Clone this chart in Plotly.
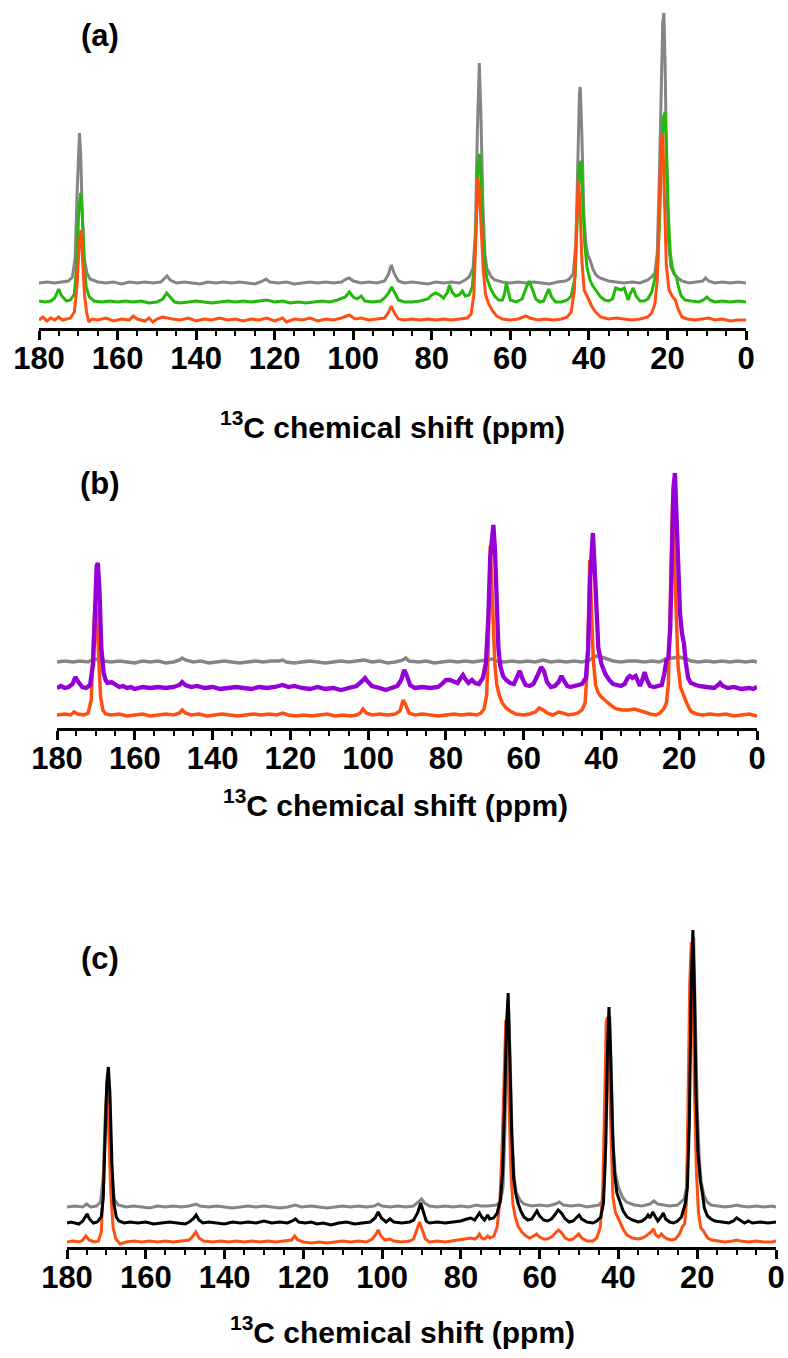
import plotly.graph_objects as go

# ---------------- data: [ppm, intensity above own baseline] ----------------
A_GRAY = [[180,0],[178,1],[176,0],[174,1],[172.5,2],[171.5,6],[170.8,25],[170.3,90],[169.9,140],[169.7,150],[169.4,130],[169,70],[168.5,25],[167.8,10],[167,4],[165,1],[163,0],[161,1],[159,-1],[157,1],[155,0],[153,1],[151,0],[149,1],[148.2,4],[147.4,7],[146.6,3],[145,0],[143,1],[141,0],[139,-1],[137,1],[135,0],[133,1],[131,0],[129,1],[127,0],[125,-1],[123,2],[122.2,4],[121.2,1],[119,0],[117,1],[115,-1],[113,0],[111,1],[109,0],[107,1],[105,0],[103,1],[101.8,4],[101,5],[100,2],[98,0],[96,1],[94,0],[92,2],[91,9],[90.3,18],[89.5,9],[88.5,2],[87,0],[85,1],[83,0],[81,-1],[79,1],[77,0],[75,1],[73,0],[71.5,3],[70.5,6],[69.5,15],[68.9,50],[68.4,150],[67.9,220],[67.5,170],[67,80],[66.5,30],[66,15],[65,7],[64,3],[62,1],[60,0],[58,1],[56,0],[54,1],[52,0],[50,-1],[48,1],[46,2],[45,4],[44,9],[43.3,40],[42.8,130],[42.4,190],[42.2,196],[41.8,150],[41.3,70],[40.8,40],[40.2,27],[39.7,23],[39,14],[38.2,8],[37.2,5],[36,3],[35,2],[33,1],[31,0],[29,1],[27,0],[25,3],[24,6],[23.2,10],[22.6,30],[22.1,100],[21.6,210],[21.2,260],[20.9,270],[20.6,220],[20.2,110],[19.7,40],[19.1,16],[18.3,9],[17.3,5],[16.3,2],[14.5,0],[12.5,1],[11,2],[10.3,5],[9.5,2],[8,0],[6,1],[4,0],[2,1],[0,0]]
A_GREEN = [[180,1],[178.5,0],[177,1],[176,4],[175,13],[174.2,6],[173,1],[172,2],[171,8],[170.4,35],[169.9,90],[169.4,109],[169,90],[168.5,40],[168,15],[167.2,5],[166,1],[164,0],[162,1],[160,0],[158,1],[156,0],[154,1],[152,-1],[150,0],[148.5,3],[147.5,9],[146.5,4],[145.5,0],[144,-1],[142,0],[140,1],[138,0],[136,-1],[134,0],[132,1],[130,0],[128,1],[126,0],[124,1],[122,2],[120,0],[118,1],[116,-1],[114,0],[112,-1],[110,0],[108,1],[106,0],[104,2],[102,5],[101,10],[100,5],[99,3],[98,6],[97,1],[95,0],[93,1],[92,4],[91,9],[90.2,15],[89.3,8],[88.5,2],[87,0],[85,0],[83,1],[81,3],[80,7],[79,9],[78,7],[77,4],[76,10],[75.5,17],[74.8,10],[74,6],[73,7],[72.2,11],[71.5,6],[70.5,7],[69.7,15],[69.1,40],[68.6,90],[68.2,140],[67.8,148],[67.4,120],[67,70],[66.5,38],[66,24],[65,13],[64,6],[63,2],[62,2],[61.5,8],[61,19],[60.5,10],[60,2],[58.5,0],[57,3],[56,14],[55.2,21],[54.5,14],[53.5,3],[52.5,0],[51.5,1],[50.8,8],[50.2,13],[49.5,5],[48.5,0],[47,0],[45.5,2],[44.5,6],[43.5,25],[42.9,90],[42.4,135],[42,141],[41.6,110],[41.1,60],[40.5,35],[39.7,22],[39,16],[38,10],[37,5],[36,2],[35,1],[34,3],[33.2,14],[32.5,13],[31.8,12],[31,14],[30.4,6],[30,2],[29.5,8],[28.7,14],[28,6],[27,1],[26,1],[25,3],[24,10],[23.4,22],[23,27],[22.5,35],[22,80],[21.5,150],[21,185],[20.6,190],[20.2,150],[19.8,90],[19.3,50],[18.8,35],[18.2,28],[17.7,25],[17.2,15],[16.5,6],[15.5,2],[14,1],[12,0],[10.8,2],[10,5],[9.2,2],[8,0],[6,1],[4,0],[2,1],[0,0]]
A_ORANGE = [[180,0],[179,3],[178,-1],[177,2],[176,0],[175,3],[174,0],[173,1],[172,2],[171,8],[170.3,35],[169.8,75],[169.3,90],[168.9,60],[168.4,25],[167.9,8],[167.3,-2],[166.5,1],[165,0],[163,2],[161,-1],[159,1],[157,0],[156,4],[155,1],[153,-1],[152,2],[151,-2],[150,1],[148.5,3],[147.5,2],[146,1],[144,0],[142,2],[140,-1],[138,1],[136,0],[134,2],[132,0],[130,1],[128,-1],[126,1],[124,0],[122,2],[120,-1],[118,2],[117,-2],[115,1],[113,0],[111,2],[109,-1],[107,1],[105,0],[103,2],[101,5],[99.5,1],[98,2],[96,0],[94,1],[92,2],[91,8],[90.3,14],[89.5,7],[88.5,1],[87,0],[85,1],[83,0],[81,1],[79,0],[77,1],[75,0],[73,1],[71,2],[70,6],[69.3,25],[68.8,80],[68.3,143],[67.9,130],[67.4,90],[66.9,50],[66.3,25],[65.5,16],[64.5,9],[63.5,4],[62,1],[60,0],[58,1],[56,4],[55,2],[53,0],[51,1],[49,0],[47,1],[45.5,3],[44.5,8],[43.7,30],[43.1,100],[42.7,140],[42.3,120],[41.8,60],[41.2,30],[40.3,22],[39.3,14],[38.3,8],[37,3],[35,1],[33,2],[31,1],[29,0],[27,1],[25,3],[24,7],[23.2,16],[22.6,40],[22.1,120],[21.6,180],[21.2,187],[20.8,120],[20.3,55],[19.6,30],[18.8,24],[18,20],[17.2,10],[16.3,3],[15,1],[13,0],[11,1],[9.5,2],[8,0],[6,1],[4,-1],[2,0],[0,0]]

B_GRAY = [[180,0],[178,1],[176,0],[174,1],[172,0],[171,2],[170,3],[168,1],[166,0],[164,1],[162,0],[160,-1],[158,1],[156,0],[154,1],[152,-1],[150,0],[148.5,2],[147.8,4],[147,2],[145,0],[143,1],[141,-1],[139,0],[137,1],[135,0],[133,-1],[131,0],[129,1],[127,0],[125,1],[123,1],[122,2],[121,0],[119,-1],[117,0],[115,1],[113,0],[111,-1],[109,0],[107,1],[105,0],[103,1],[101,2],[99,0],[97,1],[95,-1],[93,0],[91,2],[90.3,4],[89.5,1],[87,0],[85,1],[83,-1],[81,0],[79,1],[77,0],[75,1],[73,0],[71,1],[69,2],[68,3],[67,1],[65,0],[63,1],[61,0],[59,1],[57,0],[55,2],[53,0],[51,1],[49,0],[47,1],[45,0],[43,2],[41.5,6],[40,5],[38.5,3],[37,1],[35,0],[33,1],[31,1],[29,0],[27,1],[25,0],[23.5,3],[22,4],[20,5],[18,3],[17,1],[15,0],[13,1],[11,0],[9,1],[7,0],[5,1],[3,0],[1,1],[0,0]]
B_PURPLE = [[180,0],[179,2],[178,0],[177,1],[176,4],[175.3,11],[174.5,6],[173.5,1],[172.5,0],[171.5,3],[170.7,25],[170.2,90],[169.8,122],[169.5,125],[169.1,100],[168.6,40],[168,15],[167.5,8],[167,5],[166,6],[165,3],[164,1],[163,2],[162,0],[161,1],[160,-1],[158,1],[156,0],[154,1],[152,0],[150,1],[148.5,3],[147.8,6],[147,3],[145.5,1],[144,2],[142,0],[140,1],[138,-1],[136,0],[134,1],[132,0],[130,-1],[128,1],[126,0],[124,1],[122,3],[120.5,1],[119,2],[117,0],[115,-1],[113,1],[111,-1],[109,0],[107,-2],[105,0],[103,2],[101.5,7],[100.8,10],[100,6],[99,2],[97,0],[95.5,-2],[94,0],[92.5,2],[91.5,8],[90.7,18],[90,12],[89.2,3],[88,0],[86,1],[84,0],[82,1],[81,4],[80,8],[79,8],[78,6],[77,5],[76.2,10],[75.6,13],[75,9],[74.2,5],[73.3,8],[72.5,5],[71.5,4],[70.5,10],[69.7,25],[69.1,70],[68.6,130],[68.1,160],[67.8,163],[67.4,140],[67,90],[66.5,40],[66,22],[65.3,12],[64.5,8],[63.5,5],[62.5,4],[61.7,10],[61,17],[60.4,10],[59.5,3],[58.5,2],[57.5,4],[56.5,12],[55.5,21],[54.8,17],[54,6],[53,1],[52,2],[51,6],[50.3,12],[49.6,7],[48.8,2],[48,1],[47,2],[46,4],[45,4],[44,10],[43.4,40],[42.9,110],[42.5,152],[42.2,155],[41.8,125],[41.3,70],[40.8,40],[40,24],[39,14],[38,8],[37,4],[36,3],[35,2],[34,4],[33.3,10],[32.7,12],[32,10],[31.2,12],[30.6,6],[30.1,2],[29.5,8],[28.9,16],[28.3,8],[27.5,2],[26.5,1],[25.5,2],[24.5,3],[23.8,15],[23.3,28],[22.8,30],[22.3,60],[21.9,130],[21.5,200],[21.1,215],[20.7,170],[20.3,110],[19.8,75],[19.3,55],[18.8,45],[18.3,25],[17.7,10],[17,5],[16,3],[15,2],[13,1],[11,0],[10,3],[9.5,5],[8.8,2],[7.5,0],[6,1],[4,-1],[2,0],[1,-1],[0,1]]
B_ORANGE = [[180,0],[178,1],[176.5,0],[175.6,3],[174.7,1],[173,0],[172,2],[171.2,15],[170.7,70],[170.2,113],[169.8,100],[169.3,50],[168.8,18],[168.2,5],[167.5,1],[166,0],[164,1],[162,-1],[160,0],[158,1],[156,-1],[154,0],[152,1],[150,0],[148.5,2],[147.8,5],[147,2],[145.5,0],[143.5,1],[141.5,-1],[139.5,0],[137.5,1],[135.5,0],[133.5,-1],[131.5,0],[129.5,1],[127.5,0],[125.5,1],[123.5,0],[122,2],[120.5,0],[118.5,-1],[116.5,0],[114.5,-1],[112.5,0],[110.5,1],[108.5,-1],[106.5,0],[104.5,-1],[103,0],[102,2],[101.3,6],[100.5,2],[99,0],[97,1],[95,0],[93,1],[91.8,4],[91,15],[90.3,10],[89.5,2],[88,0],[86,1],[84,0],[82,-1],[80,0],[78,1],[76,0],[74,1],[72,0],[71,2],[70.2,6],[69.5,20],[69.1,70],[68.8,140],[68.6,169],[68.3,140],[67.9,90],[67.4,50],[66.9,30],[66.3,20],[65.5,12],[64.5,7],[63.5,4],[62,1],[60,0],[58.5,1],[57,3],[56,7],[55,5],[54,2],[52.5,0],[51,3],[50,2],[48.5,0],[47,1],[46,2],[45,5],[44.2,12],[43.6,50],[43.2,140],[43,155],[42.6,110],[42.1,55],[41.5,30],[40.8,22],[40,18],[39,14],[38,11],[37,8],[36,6],[34.5,5],[33,5],[31.5,6],[30.5,5],[29,3],[27.5,1],[26,0],[25,2],[24,6],[23.3,12],[22.8,30],[22.3,110],[21.9,200],[21.7,213],[21.3,160],[20.8,90],[20.3,50],[19.7,28],[19,20],[18.3,14],[17.5,7],[16.8,3],[15.5,1],[14,0],[12,1],[10,0],[8,1],[6,-1],[4,0],[2,1],[0,-1]]

C_GRAY = [[180,0],[178,1],[176,0],[175,3],[174,0],[172.5,1],[171.5,5],[170.8,30],[170.2,100],[169.7,130],[169.2,90],[168.6,30],[168,8],[167,2],[165,0],[163,1],[161,0],[159,-1],[157,1],[155,0],[153,1],[151,0],[149,1],[148,2],[147.2,3],[146.3,1],[144,0],[142,1],[140,0],[138,-1],[136,0],[134,1],[132,0],[130,1],[128,0],[126,-1],[124,0],[122,2],[120.5,0],[118,1],[116,0],[114,-1],[112,0],[110,1],[108,0],[106,1],[104,0],[102,1],[101,3],[100,1],[98,0],[96,1],[94,0],[92,1],[90.8,5],[90,8],[89.2,4],[88,1],[86,0],[84,1],[82,0],[80,1],[78,0],[76,2],[75,1],[73,1],[71,2],[70,5],[69.3,20],[68.8,80],[68.3,170],[67.9,200],[67.5,150],[67,70],[66.5,30],[66,15],[65,7],[64,3],[62,1],[60,2],[58,1],[56,3],[55,5],[54,2],[52,1],[50,2],[48,0],[46,1],[45,2],[44,6],[43.5,30],[43,120],[42.6,180],[42.2,190],[41.8,130],[41.3,60],[40.8,35],[40,20],[39,10],[38,5],[36,2],[34,1],[32,3],[31,6],[30,3],[28.5,2],[27,1],[25,2],[24,5],[23.3,8],[22.7,20],[22.2,90],[21.7,200],[21.3,260],[20.9,270],[20.5,200],[20,100],[19.5,50],[19,25],[18.3,12],[17.5,5],[16.5,2],[15,1],[13,0],[11,1],[10,2],[9,1],[7,0],[5,1],[3,0],[1,1],[0,0]]
C_BLACK = [[180,0],[179,1],[178,0],[177,-1],[176,2],[175.4,6],[174.9,9],[174.3,4],[173.3,0],[172.3,1],[171.3,6],[170.8,25],[170.3,80],[169.9,140],[169.5,156],[169.1,130],[168.6,60],[168.1,20],[167.5,6],[166.8,2],[165.5,0],[164,1],[162,0],[160,1],[158,-1],[156,0],[154,1],[152,0],[150,-1],[149,1],[148,4],[147.2,8],[146.5,3],[145.5,0],[144,1],[142,0],[140,-1],[138,1],[136,0],[134,1],[132,0],[130,2],[128,0],[126,1],[124,0],[122.8,2],[122,4],[121.2,1],[119.5,0],[118,1],[116.5,-1],[115,0],[113,-2],[111,0],[109,1],[107,-1],[105,0],[103,1],[101.8,5],[101,11],[100.2,5],[99,1],[98,4],[97,1],[95,0],[93,1],[92,3],[91,10],[90.2,20],[89.5,12],[88.8,2],[88,0],[86,1],[84,0],[82,1],[80,2],[78.5,4],[77.5,5],[76.5,3],[75.8,7],[75.3,10],[74.7,6],[74,3],[73.2,8],[72.7,4],[71.7,5],[70.8,10],[70,22],[69.4,50],[68.9,120],[68.4,200],[68,230],[67.6,170],[67.1,90],[66.6,45],[66.1,30],[65.5,20],[64.8,12],[64,6],[63,3],[62,4],[61.3,9],[60.7,12],[60,7],[59,3],[58,2],[57,4],[56,9],[55.3,13],[54.5,10],[53.5,4],[52.5,1],[51.5,2],[50.5,6],[50,8],[49.3,4],[48,1],[46.5,0],[45.5,2],[44.5,6],[43.8,20],[43.2,80],[42.8,170],[42.4,216],[42,170],[41.5,90],[41,50],[40.4,30],[39.6,20],[38.8,12],[37.8,6],[36.5,3],[35,1],[34,2],[33,5],[32.5,8],[32,5],[31.3,11],[30.6,6],[30,2],[29.2,6],[28.6,10],[28,4],[27,1],[26,0],[25,2],[24,6],[23.5,14],[23,20],[22.5,35],[22,100],[21.5,240],[21.1,293],[20.7,230],[20.3,130],[19.8,70],[19.2,42],[18.7,30],[18.2,15],[17.4,7],[16.5,4],[15.5,2],[14,1],[12,0],[10.8,2],[10,5],[9.2,3],[8,0],[7,2],[6,0],[4,1],[2,0],[0,1]]
C_ORANGE = [[180,0],[178.5,1],[177,0],[176,2],[175.2,6],[174.4,2],[173,0],[172,1],[171.3,10],[170.7,60],[170.2,130],[169.8,147],[169.4,110],[168.9,50],[168.3,15],[167.6,3],[166.5,-2],[165,0],[163,1],[161,0],[159,1],[157,0],[155,1],[153,0],[151,1],[149,2],[148,6],[147.3,10],[146.5,4],[145.3,1],[143,0],[141,1],[139,0],[137,1],[135,0],[133,1],[131,0],[129,1],[127,0],[125,1],[123,2],[122.2,6],[121.4,2],[120,0],[118,-1],[116,0],[114,-1],[112,0],[110,1],[108,0],[106,1],[104,0],[102.5,3],[101.5,8],[101,12],[100.3,6],[99.3,2],[98,3],[97,1],[95,0],[93,1],[92,3],[91.2,12],[90.5,20],[89.8,12],[89,3],[88,0],[86,1],[84,0],[82,1],[80,2],[78.5,3],[77.5,4],[76.5,3],[75.8,5],[75.3,8],[74.7,4],[74,3],[73.2,6],[72.6,4],[71.6,6],[70.8,15],[70.1,40],[69.5,100],[69,180],[68.6,222],[68.3,210],[67.8,140],[67.3,70],[66.8,38],[66.2,25],[65.5,16],[64.5,10],[63.5,6],[62.5,4],[61.5,6],[60.8,8],[60,5],[59,3],[58,3],[57,5],[56,9],[55.2,12],[54.4,9],[53.5,4],[52.5,2],[51.5,3],[50.7,6],[50.1,8],[49.3,4],[48,1],[46.5,1],[45.5,4],[44.6,15],[44,50],[43.5,140],[43.1,220],[42.8,225],[42.4,170],[41.9,90],[41.4,45],[40.8,30],[40.2,25],[39.5,18],[38.7,12],[37.8,7],[36.5,4],[35,3],[34,4],[33,6],[32.4,8],[31.7,10],[31.1,13],[30.5,7],[29.8,5],[29.1,8],[28.4,5],[27.5,3],[26.5,2],[25.5,3],[24.5,8],[23.8,15],[23.2,18],[22.7,40],[22.3,150],[21.9,260],[21.5,300],[21.1,250],[20.7,150],[20.2,70],[19.7,30],[19.1,14],[18.6,12],[18,8],[17.3,4],[16.3,2],[15,1],[13,0],[11,1],[10,2],[9,1],[7,0],[5,1],[3,0],[1,0],[0,1]]

TICK_VALS = [0, 20, 40, 60, 80, 100, 120, 140, 160, 180]
X_TITLE = "<sup>13</sup>C chemical shift (ppm)"
PANEL_LABELS = ["(a)", "(b)", "(c)"]

# ---------------- styling / layout ----------------
W, H = 788, 1358
GRAY, GREEN, ORANGE, PURPLE, BLACK = "#858585", "#22b90a", "#ff5014", "#9500d6", "#000000"
NUM_FONT = "Liberation Sans, Arial, sans-serif"
LAB_FONT = "Liberation Sans, Arial, sans-serif"

panels = [
    dict(x0=39, x1=746, axis_y=328, top_y=8,
         traces=[(A_GRAY, 45, GRAY, 3), (A_GREEN, 26, GREEN, 3), (A_ORANGE, 8, ORANGE, 3)],
         label_xy=(100, 35), title_xy=(392, 425)),
    dict(x0=57, x1=757, axis_y=728, top_y=468,
         traces=[(B_GRAY, 66, GRAY, 3.5), (B_ORANGE, 13, ORANGE, 3.5), (B_PURPLE, 40, PURPLE, 4.3)],
         label_xy=(100, 483), title_xy=(396, 803)),
    dict(x0=67, x1=776, axis_y=1247, top_y=925,
         traces=[(C_GRAY, 40, GRAY, 3), (C_ORANGE, 5, ORANGE, 3), (C_BLACK, 24, BLACK, 3)],
         label_xy=(100, 958), title_xy=(403, 1330)),
]

fig = go.Figure()
annotations = []
for i, p in enumerate(panels):
    sfx = "" if i == 0 else str(i + 1)
    for data, off, col, lw in p["traces"]:
        fig.add_trace(go.Scatter(
            x=[d[0] for d in data], y=[off + d[1] for d in data],
            mode="lines", line=dict(color=col, width=lw),
            xaxis="x" + sfx, yaxis="y" + sfx, showlegend=False, hoverinfo="skip"))
    yr = p["axis_y"] - p["top_y"]
    fig.layout["xaxis" + sfx] = dict(
        domain=[p["x0"] / W, p["x1"] / W], range=[180, 0], anchor="y" + sfx,
        showline=True, linecolor="black", linewidth=3,
        ticks="outside", ticklen=9, tickwidth=2.5, tickcolor="black",
        tickvals=TICK_VALS, ticktext=[str(v) for v in TICK_VALS],
        tickfont=dict(family=NUM_FONT, size=31, color="black", weight="bold"),
        ticklabelstandoff=-8, automargin=False,
        minor=dict(dtick=5, tick0=0, ticks="outside", ticklen=5, tickwidth=2, tickcolor="black"),
        showgrid=False, zeroline=False, fixedrange=True)
    fig.layout["yaxis" + sfx] = dict(
        domain=[1 - p["axis_y"] / H, 1 - p["top_y"] / H], range=[0, yr],
        anchor="x" + sfx, visible=False, fixedrange=True, automargin=False)
    lx, ly = p["label_xy"]
    annotations.append(dict(text=PANEL_LABELS[i], x=lx / W, y=1 - ly / H, xref="paper", yref="paper",
                            showarrow=False, xanchor="center", yanchor="middle",
                            font=dict(family=LAB_FONT, size=31, color="black", weight="bold")))
    tx, ty = p["title_xy"]
    annotations.append(dict(text=X_TITLE, x=tx / W, y=1 - ty / H, xref="paper", yref="paper",
                            showarrow=False, xanchor="center", yanchor="middle",
                            font=dict(family=NUM_FONT, size=30, color="black", weight="bold")))

fig.update_layout(width=W, height=H,
                  margin=dict(l=0, r=0, t=0, b=0, pad=0, autoexpand=False),
                  paper_bgcolor="white", plot_bgcolor="white", annotations=annotations)
fig.write_html("out.html")
